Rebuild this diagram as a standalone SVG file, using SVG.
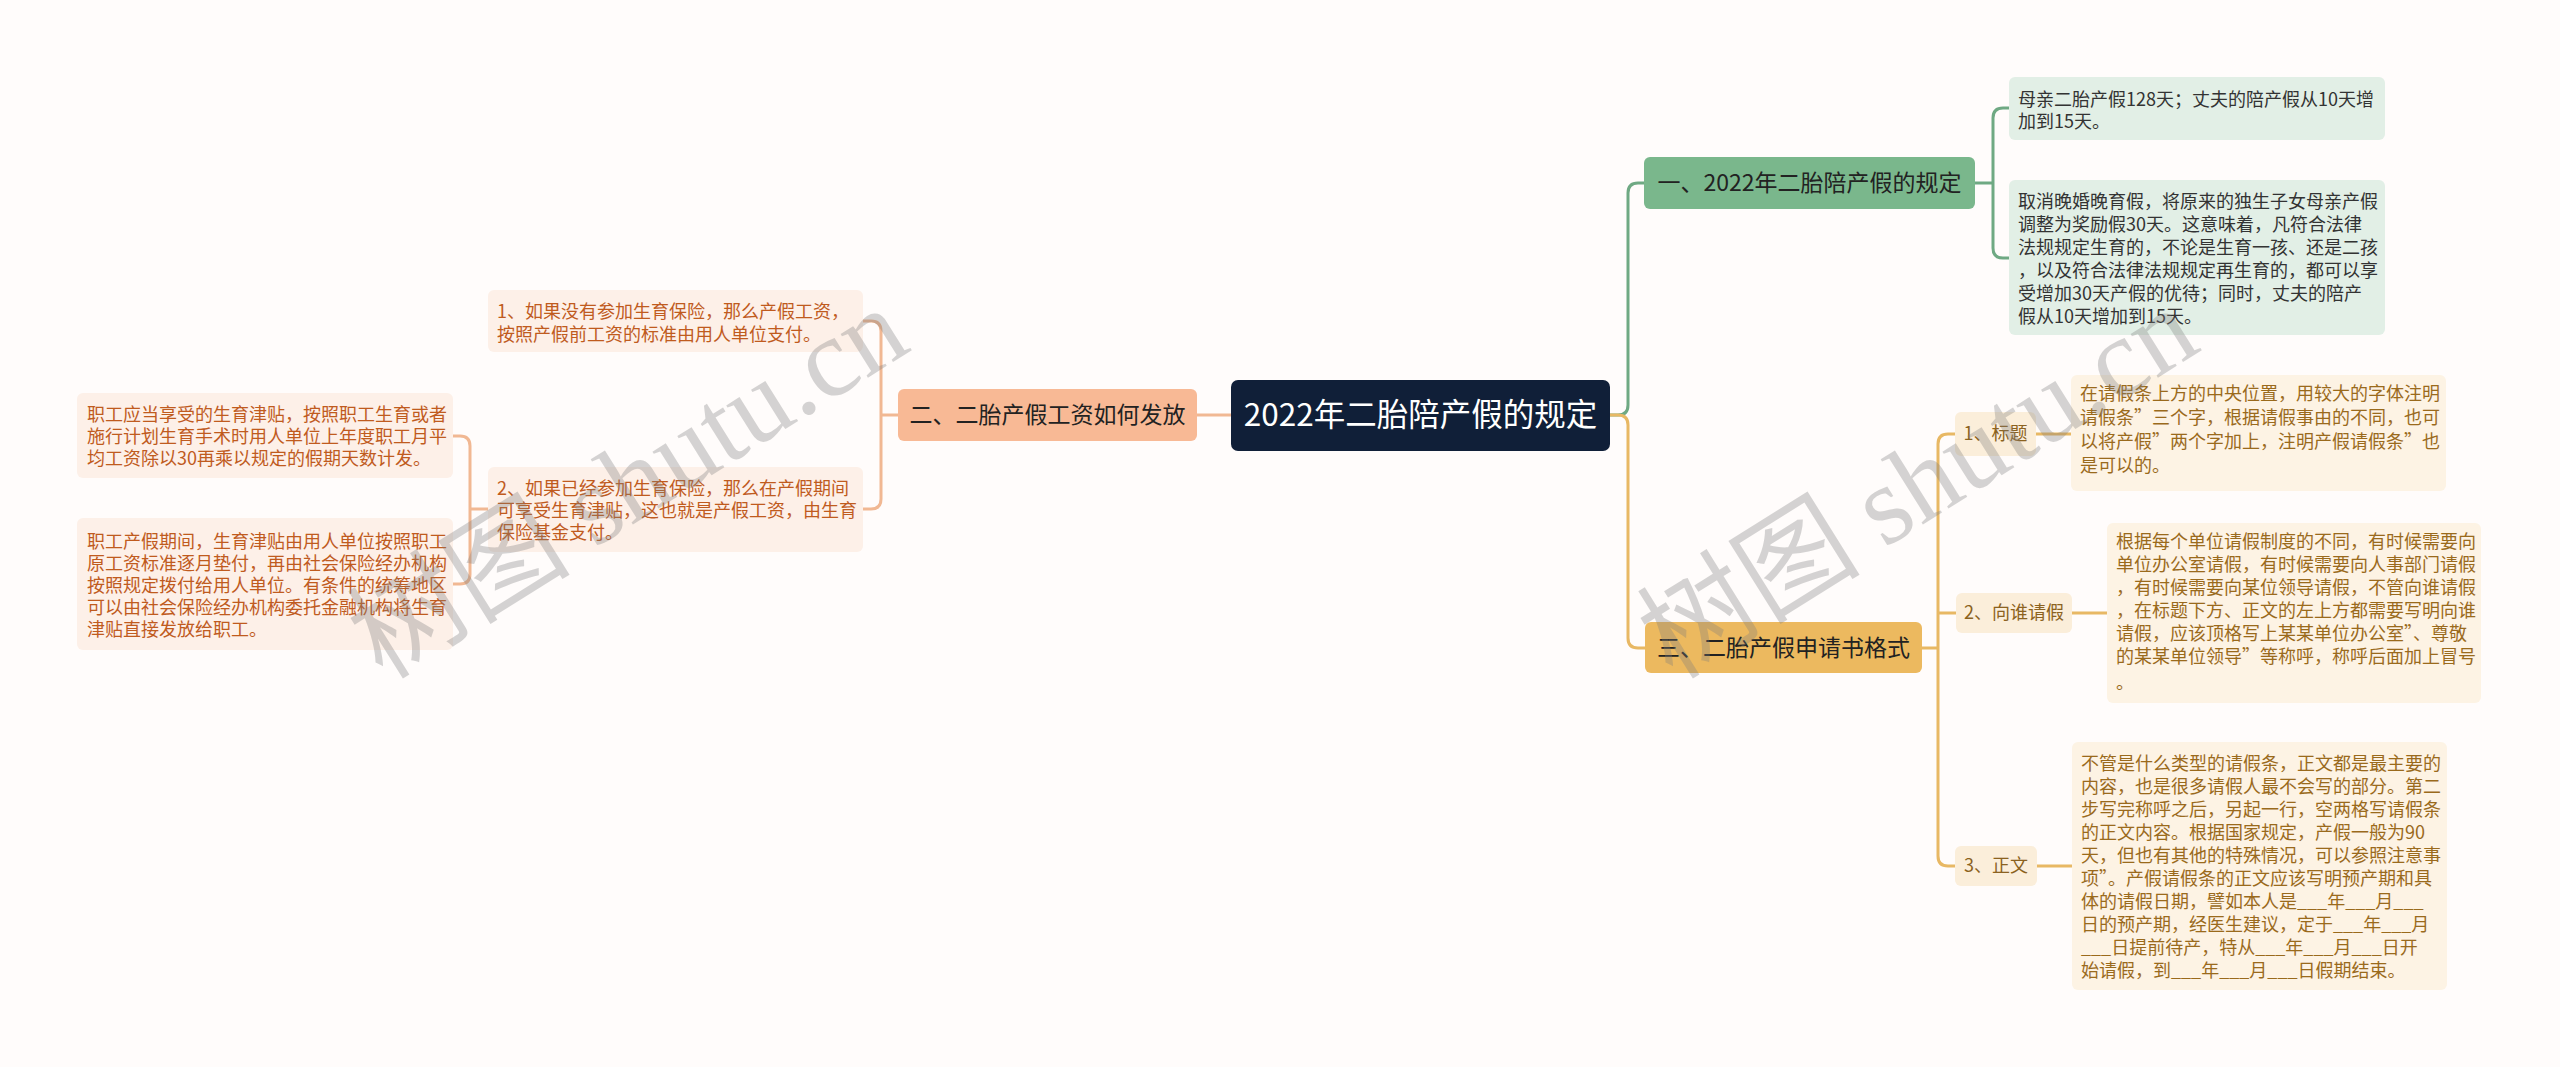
<svg xmlns="http://www.w3.org/2000/svg" width="2560" height="1067" viewBox="0 0 2560 1067">
<style>
text{font-family:"Noto Sans CJK SC","Noto Sans",sans-serif}
.c{fill:none;stroke-width:3;stroke-linecap:round}
.g{stroke:#6fa983}.o{stroke:#f1b893}.y{stroke:#e8b864}
.root{fill:#101f38}.rt{fill:#ffffff;font-size:31.5px}
.b1{fill:#7ab78c}.b2{fill:#f8b995}.b3{fill:#ecb95f}.bt{fill:#222;font-size:23px}
.gl{fill:#e2efe6}.gt{fill:#333;font-size:18px}
.ol{fill:#fdf0e8}.ot{fill:#c05b1e;font-size:18px}
.yl{fill:#fdf3e4}.yt{fill:#9a6a1c;font-size:18px}
.yk{fill:#fbeeda}.kt{fill:#8b6220;font-size:18px}
.wm{fill:#7d7d7d;opacity:0.32;font-size:112px}
</style>
<rect width="2560" height="1067" fill="#fffcfb"/>
<g id="connectors">
<path class="c g" d="M1610,415 H1618 Q1628,415 1628,405 V193 Q1628,183 1638,183 H1644"/>
<path class="c y" d="M1610,415 H1618 Q1628,415 1628,425 V638 Q1628,648 1638,648 H1645"/>
<path class="c o" d="M1231,415 H1197"/>
<path class="c g" d="M1975,183 H1993 M2009,108 H2003 Q1993,108 1993,118 V248 Q1993,258 2003,258 H2009"/>
<path class="c o" d="M898,415 H881 M863,321 H871 Q881,321 881,331 V499 Q881,509 871,509 H863"/>
<path class="c o" d="M488,509 H470 M453,436 H460 Q470,436 470,446 V574 Q470,584 460,584 H453"/>
<path class="c y" d="M1922,648 H1938 M1955,434 H1948 Q1938,434 1938,444 V856 Q1938,866 1948,866 H1955 M1938,613 H1956"/>
<path class="c y" d="M2036,434 H2071 M2072,613 H2107 M2037,866 H2072"/>
</g>
<g id="root"><rect class="root" x="1231" y="380" width="379" height="71" rx="7"/><text class="rt" x="1420.5" y="426" text-anchor="middle">2022年二胎陪产假的规定</text></g>
<g id="b1"><rect class="b1" x="1644" y="157" width="331" height="52" rx="6"/><text class="bt" x="1809.5" y="191" text-anchor="middle">一、2022年二胎陪产假的规定</text></g>
<g id="b2"><rect class="b2" x="898" y="389" width="299" height="52" rx="6"/><text class="bt" x="1047.5" y="423" text-anchor="middle">二、二胎产假工资如何发放</text></g>
<g id="b3"><rect class="b3" x="1645" y="622" width="277" height="51" rx="6"/><text class="bt" x="1783.5" y="656" text-anchor="middle">三、二胎产假申请书格式</text></g>
<g id="b1c1"><rect class="gl" x="2009" y="77" width="376" height="63" rx="6"/><text class="gt" x="2018"><tspan x="2018" y="106">母亲二胎产假128天；丈夫的陪产假从10天增</tspan><tspan x="2018" y="128">加到15天。</tspan></text></g>
<g id="b1c2"><rect class="gl" x="2009" y="180" width="376" height="155" rx="6"/><text class="gt"><tspan x="2018" y="208">取消晚婚晚育假，将原来的独生子女母亲产假</tspan><tspan x="2018" y="231">调整为奖励假30天。这意味着，凡符合法律</tspan><tspan x="2018" y="254">法规规定生育的，不论是生育一孩、还是二孩</tspan><tspan x="2018" y="277">，以及符合法律法规规定再生育的，都可以享</tspan><tspan x="2018" y="300">受增加30天产假的优待；同时，丈夫的陪产</tspan><tspan x="2018" y="323">假从10天增加到15天。</tspan></text></g>
<g id="b2c1"><rect class="ol" x="488" y="290" width="375" height="62" rx="6"/><text class="ot"><tspan x="497" y="318">1、如果没有参加生育保险，那么产假工资，</tspan><tspan x="497" y="341">按照产假前工资的标准由用人单位支付。</tspan></text></g>
<g id="b2c2"><rect class="ol" x="488" y="467" width="375" height="85" rx="6"/><text class="ot"><tspan x="497" y="495">2、如果已经参加生育保险，那么在产假期间</tspan><tspan x="497" y="517">可享受生育津贴，这也就是产假工资，由生育</tspan><tspan x="497" y="539">保险基金支付。</tspan></text></g>
<g id="b2c2g1"><rect class="ol" x="77" y="393" width="376" height="85" rx="6"/><text class="ot"><tspan x="87" y="421">职工应当享受的生育津贴，按照职工生育或者</tspan><tspan x="87" y="443">施行计划生育手术时用人单位上年度职工月平</tspan><tspan x="87" y="465">均工资除以30再乘以规定的假期天数计发。</tspan></text></g>
<g id="b2c2g2"><rect class="ol" x="77" y="518" width="376" height="132" rx="6"/><text class="ot"><tspan x="87" y="548">职工产假期间，生育津贴由用人单位按照职工</tspan><tspan x="87" y="570">原工资标准逐月垫付，再由社会保险经办机构</tspan><tspan x="87" y="592">按照规定拨付给用人单位。有条件的统筹地区</tspan><tspan x="87" y="614">可以由社会保险经办机构委托金融机构将生育</tspan><tspan x="87" y="636">津贴直接发放给职工。</tspan></text></g>
<g id="b3c1"><rect class="yk" x="1955" y="412" width="81" height="44" rx="6"/><text class="kt" x="1995.5" y="440" text-anchor="middle">1、标题</text></g>
<g id="b3c1d"><rect class="yl" x="2071" y="375" width="375" height="116" rx="6"/><text class="yt"><tspan x="2080" y="400">在请假条上方的中央位置，用较大的字体注明</tspan><tspan x="2080" y="424">请假条”三个字，根据请假事由的不同，也可</tspan><tspan x="2080" y="448">以将产假”两个字加上，注明产假请假条”也</tspan><tspan x="2080" y="472">是可以的。</tspan></text></g>
<g id="b3c2"><rect class="yk" x="1956" y="593" width="116" height="40" rx="6"/><text class="kt" x="2014" y="619" text-anchor="middle">2、向谁请假</text></g>
<g id="b3c2d"><rect class="yl" x="2107" y="523" width="374" height="180" rx="6"/><text class="yt"><tspan x="2116" y="548">根据每个单位请假制度的不同，有时候需要向</tspan><tspan x="2116" y="571">单位办公室请假，有时候需要向人事部门请假</tspan><tspan x="2116" y="594">，有时候需要向某位领导请假，不管向谁请假</tspan><tspan x="2116" y="617">，在标题下方、正文的左上方都需要写明向谁</tspan><tspan x="2116" y="640">请假，应该顶格写上某某单位办公室”、尊敬</tspan><tspan x="2116" y="663">的某某单位领导”等称呼，称呼后面加上冒号</tspan><tspan x="2116" y="689">。</tspan></text></g>
<g id="b3c3"><rect class="yk" x="1955" y="846" width="82" height="40" rx="6"/><text class="kt" x="1996" y="872" text-anchor="middle">3、正文</text></g>
<g id="b3c3d"><rect class="yl" x="2072" y="742" width="375" height="248" rx="6"/><text class="yt"><tspan x="2081" y="770">不管是什么类型的请假条，正文都是最主要的</tspan><tspan x="2081" y="793">内容，也是很多请假人最不会写的部分。第二</tspan><tspan x="2081" y="816">步写完称呼之后，另起一行，空两格写请假条</tspan><tspan x="2081" y="839">的正文内容。根据国家规定，产假一般为90</tspan><tspan x="2081" y="862">天，但也有其他的特殊情况，可以参照注意事</tspan><tspan x="2081" y="885">项”。产假请假条的正文应该写明预产期和具</tspan><tspan x="2081" y="908">体的请假日期，譬如本人是___年___月___</tspan><tspan x="2081" y="931">日的预产期，经医生建议，定于___年___月</tspan><tspan x="2081" y="954">___日提前待产，特从___年___月___日开</tspan><tspan x="2081" y="977">始请假，到___年___月___日假期结束。</tspan></text></g>
<g id="watermarks">
<text class="wm" transform="translate(648,515) rotate(-32)" text-anchor="middle">树图 <tspan font-family="Liberation Serif,serif">shutu.cn</tspan></text>
<text class="wm" transform="translate(1938,515) rotate(-32)" text-anchor="middle">树图 <tspan font-family="Liberation Serif,serif">shutu.cn</tspan></text>
</g>
</svg>
